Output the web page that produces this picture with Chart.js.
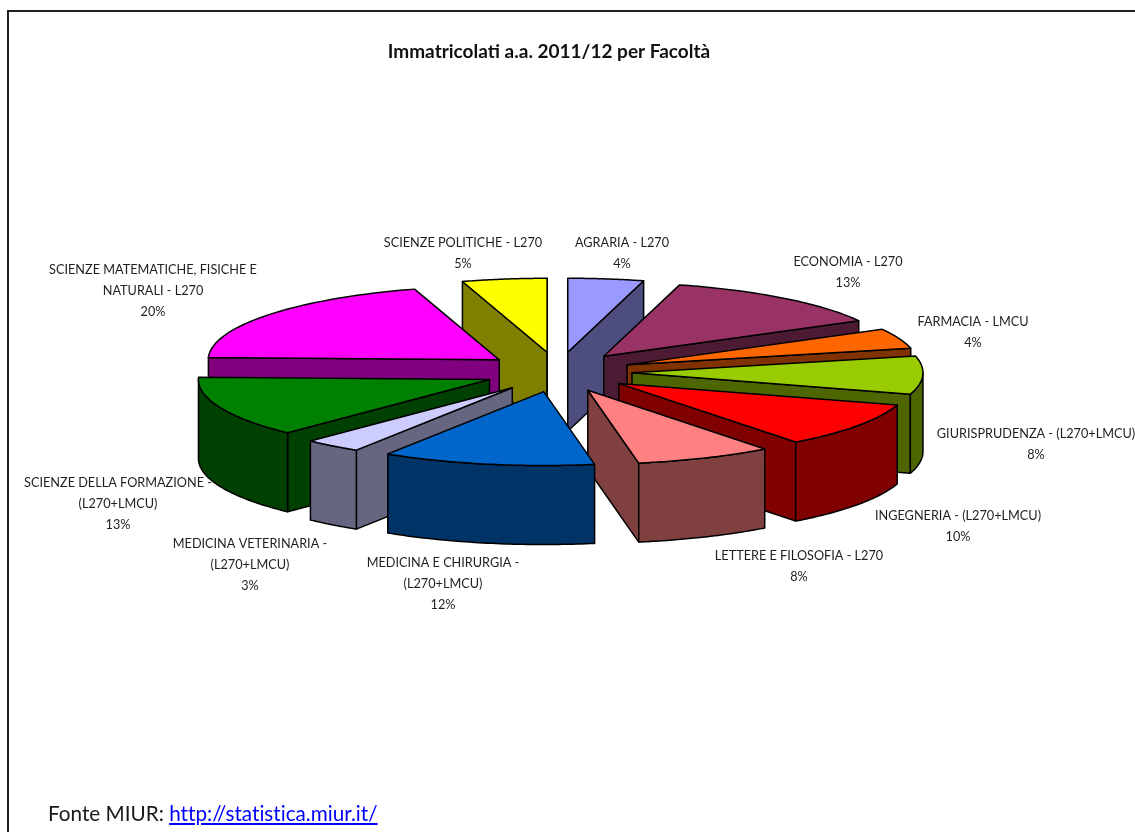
<!DOCTYPE html>
<html lang="it">
<head>
<meta charset="utf-8">
<title>Immatricolati a.a. 2011/12 per Facoltà</title>
<script src="https://cdn.jsdelivr.net/npm/chart.js@4"></script>
<style>
  html, body { margin: 0; padding: 0; background: #fff; overflow: hidden; }
  #wrap { position: relative; width: 1135px; height: 832px; overflow: hidden; }
  #frame { position: absolute; left: 7px; top: 10px; right: -5px; bottom: -5px;
           border-left: 2px solid #222; border-top: 2px solid #222; }
  #source { position: absolute; left: 48px; top: 801px; font: 20.7px Lato, sans-serif; font-variant-ligatures: none; color: #1a1a1a; white-space: nowrap; }
  #source a { color: #0000ff; text-decoration: underline; }
  canvas { position: absolute; left: 0; top: 0; }
</style>
</head>
<body>
<div id="wrap">
  <canvas id="c" width="1135" height="832"></canvas>
  <div id="frame"></div>
  <div id="source">Fonte MIUR: <a href="http://statistica.miur.it/">http://statistica.miur.it/</a></div>
</div>
<script>
const chartTitle = 'Immatricolati a.a. 2011/12 per Facoltà';
const categories = [
  'AGRARIA - L270',
  'ECONOMIA - L270',
  'FARMACIA - LMCU',
  'GIURISPRUDENZA - (L270+LMCU)',
  'INGEGNERIA - (L270+LMCU)',
  'LETTERE E FILOSOFIA - L270',
  'MEDICINA E CHIRURGIA -\n(L270+LMCU)',
  'MEDICINA VETERINARIA -\n(L270+LMCU)',
  'SCIENZE DELLA FORMAZIONE -\n(L270+LMCU)',
  'SCIENZE MATEMATICHE, FISICHE E\nNATURALI - L270',
  'SCIENZE POLITICHE - L270'
];
const percentages = [4.2, 12.8, 4.4, 8.3, 9.9, 7.6, 11.8, 3.2, 13.3, 19.8, 4.7];
const topColors = ['#9999FF', '#993366', '#FF6600', '#99CC00', '#FF0000', '#FF8080',
                   '#0066CC', '#CCCCFF', '#008000', '#FF00FF', '#FFFF00'];

// Presentation of the 3D look and of the label layout
const VIEW = { cx: 558, cy: 372, squash: 0.254, radius: 291, explodeX: 74, explodeY: 20, depth: 79 };
const labelAnchors = [
  [622, 243], [848, 262], [973, 322], [1036, 434], [958, 516], [799, 556],
  [443, 563], [250, 544], [118, 483], [153, 270], [463, 243]
];
const LABEL_LINE = 21;

function shade(hex) {
  const n = parseInt(hex.slice(1), 16);
  const half = v => Math.round(v / 2);
  return `rgb(${half(n >> 16)},${half((n >> 8) & 255)},${half(n & 255)})`;
}

const pie3d = {
  id: 'pie3d',
  beforeDatasetDraw(chart) {
    const ctx = chart.ctx;
    const arcs = chart.getDatasetMeta(0).data.map((arc, i) => ({ arc, i }));
    const midOf = a => (a.startAngle + a.endAngle) / 2;
    arcs.sort((p, q) => Math.sin(midOf(p.arc)) - Math.sin(midOf(q.arc)));

    arcs.forEach(({ arc, i }) => {
      const mid = midOf(arc);
      const tx = VIEW.cx + VIEW.explodeX * Math.cos(mid);
      const ty = VIEW.cy + VIEW.explodeY * Math.sin(mid);
      const r = arc.outerRadius;
      const rim = (ang, drop) => [tx + r * Math.cos(ang), ty + VIEW.squash * r * Math.sin(ang) + drop];
      const stroke = () => { ctx.strokeStyle = '#000'; ctx.lineWidth = 1.5; ctx.lineJoin = 'round'; ctx.stroke(); };
      const poly = (pts, fill) => {
        ctx.beginPath();
        pts.forEach((p, k) => k ? ctx.lineTo(p[0], p[1]) : ctx.moveTo(p[0], p[1]));
        ctx.closePath();
        if (fill) { ctx.fillStyle = fill; ctx.fill(); }
        stroke();
      };
      const dark = shade(topColors[i]);
      const d = VIEW.depth;

      // cut faces that look towards the viewer
      if (Math.cos(arc.startAngle) < 0) {
        const o = rim(arc.startAngle, 0);
        poly([[tx, ty], o, [o[0], o[1] + d], [tx, ty + d]], dark);
      }
      if (Math.cos(arc.endAngle) > 0) {
        const o = rim(arc.endAngle, 0);
        poly([[tx, ty], o, [o[0], o[1] + d], [tx, ty + d]], dark);
      }

      // outer wall: only the part of the rim on the front half
      const a0 = Math.max(arc.startAngle, 0);
      const a1 = Math.min(arc.endAngle, Math.PI);
      if (a1 > a0) {
        const upper = [], lower = [];
        for (let k = 0; k <= 48; k++) {
          const t = a0 + (a1 - a0) * k / 48;
          upper.push(rim(t, 0));
          lower.unshift(rim(t, d));
        }
        poly(upper.concat(lower), dark);
      }

      // top face, painted by the library's arc element
      ctx.save();
      ctx.translate(tx, ty);
      ctx.scale(1, VIEW.squash);
      ctx.translate(-arc.x, -arc.y);
      arc.draw(ctx);
      ctx.restore();

      // top outline with an unsquashed pen
      const outline = [[tx, ty]];
      for (let k = 0; k <= 48; k++) {
        outline.push(rim(arc.startAngle + (arc.endAngle - arc.startAngle) * k / 48, 0));
      }
      poly(outline, null);
    });
    return false;
  },
  afterDatasetsDraw(chart) {
    const ctx = chart.ctx;
    ctx.save();
    ctx.font = '12.7px Lato, sans-serif';
    ctx.fillStyle = '#1f1f1f';
    ctx.textAlign = 'center';
    ctx.textBaseline = 'middle';
    categories.forEach((name, i) => {
      const lines = name.split('\n').concat(Math.round(percentages[i]) + '%');
      lines.forEach((line, k) => ctx.fillText(line, labelAnchors[i][0], labelAnchors[i][1] + k * LABEL_LINE));
    });
    ctx.restore();
  }
};

const canvas = document.getElementById('c');
canvas.getContext('2d').letterSpacing = '0.01px';

new Chart(canvas, {
  type: 'pie',
  data: {
    labels: categories,
    datasets: [{
      data: percentages,
      backgroundColor: topColors,
      borderWidth: 0,
      offset: 0,
      clip: false
    }]
  },
  options: {
    responsive: false,
    animation: false,
    events: [],
    radius: VIEW.radius,
    layout: { padding: { left: 0, right: 37, top: 0, bottom: 0 } },
    plugins: {
      legend: { display: false },
      tooltip: { enabled: false },
      title: {
        display: true,
        text: chartTitle,
        color: '#111',
        font: { family: 'Lato, sans-serif', size: 19, weight: 'bold' },
        padding: { top: 40, bottom: 0 }
      }
    }
  },
  plugins: [pie3d]
});
</script>
</body>
</html>
